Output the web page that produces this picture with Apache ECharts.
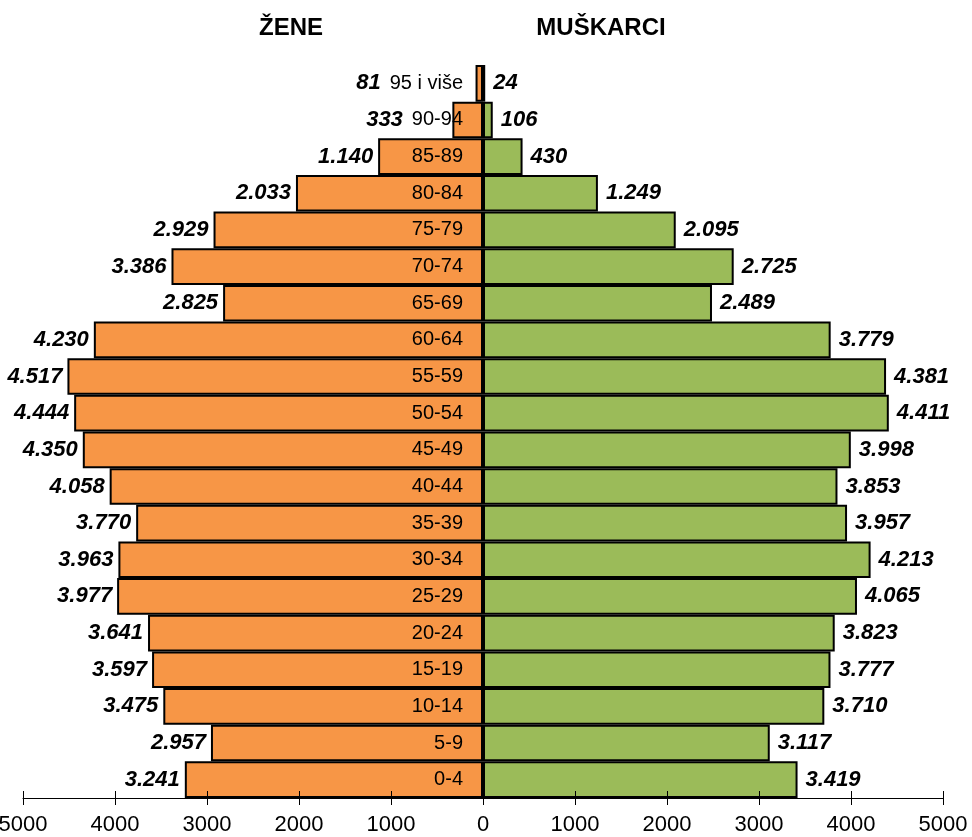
<!DOCTYPE html>
<html>
<head>
<meta charset="utf-8">
<script src="https://cdn.jsdelivr.net/npm/echarts@6/dist/echarts.min.js"></script>
<style>
  html, body { margin: 0; padding: 0; background: #fff; }
  #chart { width: 972px; height: 837px; }
</style>
</head>
<body>
<div id="chart"></div>
<script>
// Age groups, bottom to top
const ageGroups = ['0-4', '5-9', '10-14', '15-19', '20-24', '25-29', '30-34', '35-39', '40-44', '45-49',
  '50-54', '55-59', '60-64', '65-69', '70-74', '75-79', '80-84', '85-89', '90-94', '95 i više'];

// Women (ŽENE), per age group
const women = [3241, 2957, 3475, 3597, 3641, 3977, 3963, 3770, 4058, 4350,
  4444, 4517, 4230, 2825, 3386, 2929, 2033, 1140, 333, 81];

// Men (MUŠKARCI), per age group
const men = [3419, 3117, 3710, 3777, 3823, 4065, 4213, 3957, 3853, 3998,
  4411, 4381, 3779, 2489, 2725, 2095, 1249, 430, 106, 24];

// Axis ticks
const axisTicks = [-5000, -4000, -3000, -2000, -1000, 0, 1000, 2000, 3000, 4000, 5000];

const FONT = '"Liberation Sans", Arial, Helvetica, sans-serif';
const catFontSize = 20;
const catMargin = 20;
const womenLabelDist = 5;

const gridLeft = 23, gridRight = 29;
const W = 972;
const gridWidth = W - gridLeft - gridRight;

function fmt(v) {
  return String(Math.abs(v)).replace(/\B(?=(\d{3})+(?!\d))/g, '.');
}

const chart = echarts.init(document.getElementById('chart'), null, { renderer: 'canvas' });

const valueLabel = {
  show: true,
  fontFamily: FONT,
  fontSize: 22,
  fontWeight: 'bold',
  fontStyle: 'italic',
  color: '#000',
  formatter: p => fmt(p.value)
};

const xMin = axisTicks[0], xMax = axisTicks[axisTicks.length - 1];

const option = {
  animation: false,
  backgroundColor: '#ffffff',
  grid: { left: gridLeft, right: gridRight, top: 65, bottom: 39, containLabel: false, outerBoundsMode: 'none' },
  xAxis: [
    {
      type: 'value',
      position: 'bottom',
      min: xMin,
      max: xMax,
      interval: 1000,
      z: 10,
      axisLine: { show: true, onZero: false, lineStyle: { color: '#000', width: 1 } },
      axisTick: { show: true, length: 7, lineStyle: { color: '#000', width: 1 } },
      axisLabel: {
        margin: 16,
        fontFamily: FONT,
        fontSize: 22,
        color: '#000',
        formatter: v => String(Math.abs(v))
      },
      splitLine: { show: false }
    },
    {
      // upper half of the crossing tick marks
      type: 'value',
      position: 'bottom',
      min: xMin,
      max: xMax,
      interval: 1000,
      z: 10,
      axisLine: { show: false, onZero: false },
      axisTick: { show: true, inside: true, length: 7, lineStyle: { color: '#000', width: 1 } },
      axisLabel: { show: false },
      splitLine: { show: false }
    }
  ],
  yAxis: {
    type: 'category',
    data: ageGroups,
    z: 10,
    // age labels sit just left of the zero line
    offset: -gridWidth * (0 - xMin) / (xMax - xMin),
    axisLine: { show: false, onZero: false },
    axisTick: { show: false },
    axisLabel: {
      margin: catMargin,
      fontFamily: FONT,
      fontSize: catFontSize,
      color: '#000'
    }
  },
  graphic: [
    { type: 'text', x: 291, y: 28, style: { text: 'ŽENE', font: 'bold 24px ' + FONT, fill: '#000', textAlign: 'center', textVerticalAlign: 'middle' } },
    { type: 'text', x: 601, y: 28, style: { text: 'MUŠKARCI', font: 'bold 24px ' + FONT, fill: '#000', textAlign: 'center', textVerticalAlign: 'middle' } }
  ],
  series: [
    {
      name: 'ŽENE',
      type: 'bar',
      stack: 'pop',
      barCategoryGap: 0,
      data: women.map(v => -v),
      itemStyle: { color: '#F79646', borderColor: '#000', borderWidth: 2 },
      label: Object.assign({}, valueLabel, { position: 'left', distance: womenLabelDist })
    },
    {
      name: 'MUŠKARCI',
      type: 'bar',
      stack: 'pop',
      barCategoryGap: 0,
      data: men,
      itemStyle: { color: '#9BBB59', borderColor: '#000', borderWidth: 2 },
      label: Object.assign({}, valueLabel, { position: 'right', distance: 8 })
    }
  ]
};

chart.setOption(option);

// Where a short women's bar sits under its age label, move the value label
// to the left of the age label instead of letting them overlap.
const ctx = document.createElement('canvas').getContext('2d');
ctx.font = catFontSize + 'px ' + FONT;
const zeroPx = chart.convertToPixel({ xAxisIndex: 0 }, 0);
const womenData = women.map((v, i) => {
  const barLeft = chart.convertToPixel({ xAxisIndex: 0 }, -v);
  const catLeft = zeroPx - catMargin - ctx.measureText(ageGroups[i]).width;
  const naturalRight = barLeft - womenLabelDist;
  const wantedRight = Math.min(naturalRight, catLeft - 9);
  const shift = wantedRight - naturalRight;
  return shift < 0 ? { value: -v, label: { offset: [shift, 0] } } : -v;
});
chart.setOption({ series: [{ data: womenData }, {}] });
</script>
</body>
</html>
